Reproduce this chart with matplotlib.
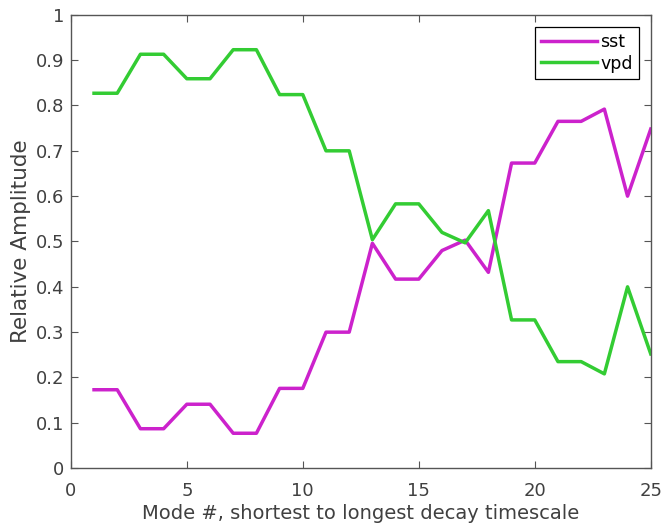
import matplotlib
matplotlib.use("Agg")
import matplotlib.pyplot as plt

modes = list(range(1, 26))
sst = [0.173, 0.173, 0.087, 0.087, 0.141, 0.141, 0.077, 0.077, 0.176, 0.176,
       0.300, 0.300, 0.496, 0.417, 0.417, 0.480, 0.503, 0.432, 0.673, 0.673,
       0.765, 0.765, 0.792, 0.600, 0.748]
vpd = [0.827, 0.827, 0.913, 0.913, 0.859, 0.859, 0.923, 0.923, 0.824, 0.824,
       0.700, 0.700, 0.504, 0.583, 0.583, 0.520, 0.497, 0.568, 0.327, 0.327,
       0.235, 0.235, 0.208, 0.400, 0.252]

fig = plt.figure(figsize=(6.62, 5.29), dpi=100)
ax = fig.add_axes([0.107, 0.115, 0.876, 0.857])

ax.plot(modes, sst, color="#cc22cc", lw=2.5, label="sst")
ax.plot(modes, vpd, color="#33cc33", lw=2.5, label="vpd")

ax.set_xlim(0, 25)
ax.set_ylim(0, 1)
ax.set_xticks([0, 5, 10, 15, 20, 25])
ax.set_yticks([i / 10 for i in range(11)])
ax.set_yticklabels(["0", "0.1", "0.2", "0.3", "0.4", "0.5", "0.6", "0.7", "0.8", "0.9", "1"])

grey = "#404040"
for s in ax.spines.values():
    s.set_color("#555555")
    s.set_linewidth(1.0)
ax.tick_params(direction="in", top=True, right=True, length=5, width=0.8,
               colors="#555555", labelcolor=grey, labelsize=13)
ax.tick_params(axis="x", pad=10)
ax.tick_params(axis="y", pad=5)

ax.set_xlabel("Mode #, shortest to longest decay timescale", fontsize=14, color=grey, labelpad=3)
ax.set_ylabel("Relative Amplitude", fontsize=15.5, color=grey, labelpad=3)

leg = ax.legend(loc="upper right", fontsize=12.5, fancybox=False, framealpha=1,
                edgecolor="black", handlelength=3.2, handletextpad=0.2,
                borderpad=0.35, labelspacing=0.2, borderaxespad=0.7)
leg.get_frame().set_linewidth(0.9)

fig.savefig("out.png", dpi=100)
